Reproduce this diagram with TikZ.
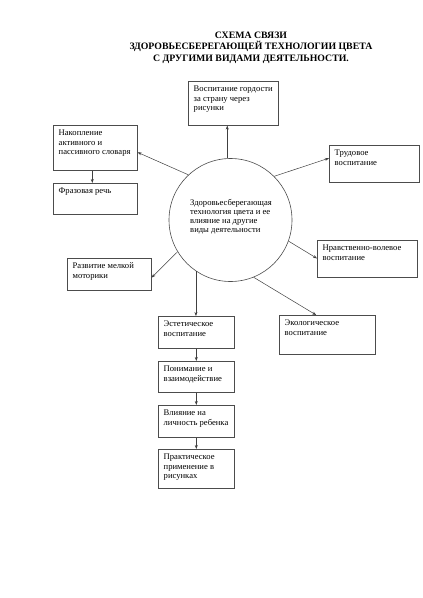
\documentclass[tikz,border=0pt]{standalone}
\usepackage{fontspec}
\setmainfont{Liberation Serif}
\usetikzlibrary{arrows.meta,calc}
\tikzset{
 bx/.style={draw=black!70, line width=0.6pt, anchor=north west, inner sep=0pt},
 tx/.style={anchor=base west, inner sep=0pt, font=\fontsize{8.6}{9.7}\selectfont},
 arr/.style={draw=black!75, line width=0.5pt, -{Stealth[length=4pt,width=3pt]}},
}
\newcommand\mybox[6]{%
 \node[bx, minimum width=#4, minimum height=#5] (#1) at (#2,#3) {};
 \node[tx] (#1t) at ($(#1.north west)+(5.5,10.5)$) {\parbox[t]{120pt}{\raggedright #6}};
}
\begin{document}
\begin{tikzpicture}[x=1pt,y=-1pt]
\useasboundingbox[fill=white] (0,0) rectangle (423,598);
\node[font=\fontsize{9.8}{11.5}\selectfont\bfseries, align=center, inner sep=0pt] (title) at (251,47.5)
 {СХЕМА СВЯЗИ\\ЗДОРОВЬЕСБЕРЕГАЮЩЕЙ ТЕХНОЛОГИИ ЦВЕТА\\С ДРУГИМИ ВИДАМИ ДЕЯТЕЛЬНОСТИ.};
\node[draw=black!70, line width=0.6pt, circle, minimum size=123pt, inner sep=0pt] (circ) at (230.5,220) {};
\node[tx, font=\fontsize{8.6}{9.1}\selectfont] (circt) at (190,205.5) {\parbox[t]{120pt}{\raggedright Здоровьесберегающая\\технология цвета и ее\\влияние на другие\\виды деятельности}};
\mybox{gord}{188}{81}{90}{44}{Воспитание гордости\\за страну через\\рисунки}
\mybox{nak}{53}{125}{84}{45}{Накопление\\активного и\\пассивного словаря}
\mybox{fraz}{53}{183}{84}{31}{Фразовая речь}
\mybox{trud}{329}{145}{90}{37}{Трудовое\\воспитание}
\mybox{nrav}{317}{240}{100}{37}{Нравственно-волевое\\воспитание}
\mybox{ekol}{279}{315}{96}{39}{Экологическое\\воспитание}
\mybox{mot}{67}{258}{84}{32}{Развитие мелкой\\моторики}
\mybox{est}{158}{316}{76}{32}{Эстетическое\\воспитание}
\mybox{pon}{158}{361}{76}{31}{Понимание и\\взаимодействие}
\mybox{vli}{158}{405}{76}{32}{Влияние на\\личность ребенка}
\mybox{prak}{158}{449}{76}{39}{Практическое\\применение в\\рисунках}
\draw[arr] (circ.93) -- (circ.93 |- gord.south);
\draw[arr] (circ.133.4) -- ($(nak.north east)!0.6!(nak.south east)$);
\draw[arr] ([xshift=-3pt]nak.south) -- ([xshift=-3pt]fraz.north);
\draw[arr] (circ.45.3) -- ($(trud.north west)!0.35!(trud.south west)$);
\draw[arr] (circ.-20.4) -- ($(nrav.north west)!0.49!(nrav.south west)$);
\draw[arr] (circ.-68.8) -- ($(ekol.north west)!0.385!(ekol.north east)$);
\draw[arr] (circ.211.7) -- ($(mot.north east)!0.6!(mot.south east)$);
\draw[arr] (circ.236) -- (circ.236 |- est.north);
\draw[arr] (est.south) -- (pon.north);
\draw[arr] (pon.south) -- (vli.north);
\draw[arr] (vli.south) -- (prak.north);
\end{tikzpicture}
\end{document}
